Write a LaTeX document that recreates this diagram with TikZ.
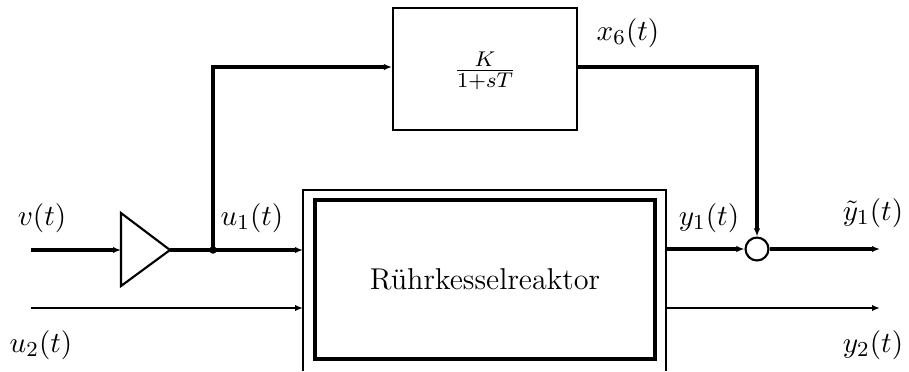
\documentclass[tikz,border=0pt]{standalone}
\usetikzlibrary{arrows.meta}
\begin{document}
\begin{tikzpicture}[x=0.375pt,y=-0.375pt,
  thickl/.style={line width=1.3pt},
  thinl/.style={line width=0.8pt},
  arr/.style={-{Latex[length=3pt,width=2.4pt]}},
  lbl/.style={inner sep=0pt,font=\fontsize{11.2}{13}\selectfont},
  blockbox/.style={draw,line width=0.8pt,minimum width=69pt,minimum height=45.75pt,inner sep=0pt},
  reactbox/.style={draw,line width=1.3pt,minimum width=127.5pt,minimum height=59.6pt,inner sep=0pt,font=\fontsize{11.3}{13}\selectfont},
  sumnode/.style={draw,circle,line width=0.8pt,minimum size=8.6pt,inner sep=0pt},
  dotnode/.style={circle,fill,minimum size=2.8pt,inner sep=0pt}]
\useasboundingbox (0,0) rectangle (909,371);
% blocks
\node[blockbox] (pt1) at (485,69) {};
\node[lbl] (frac) at (485,71) {$\frac{K}{1+sT}$};
\node[reactbox] (reactor) at (485,279.5) {R\"uhrkesselreaktor};
\coordinate (oTL) at (303,190);
\coordinate (oBL) at (303,371);
\coordinate (oTR) at (666,190);
\coordinate (oBR) at (666,371);
\draw[thinl] (oBL) -- (oTL) -- (oTR) -- (oBR);
% gain triangle
\coordinate (gin) at (121,250);
\coordinate (gout) at (170,250);
\coordinate (gtop) at (121,213);
\coordinate (gbot) at (121,286);
\draw[thinl] (gtop) -- (gout) -- (gbot) -- cycle;
% ports
\coordinate (vin) at (31,250);
\coordinate (u2in) at (31,308);
\coordinate (u1e) at (303,250);
\coordinate (u2e) at (303,308);
\coordinate (y1s) at (666,249);
\coordinate (y2s) at (666,308);
\coordinate (y1e) at (880,249);
\coordinate (y2e) at (880,308);
\node[dotnode] (junc) at (213,250) {};
\coordinate (jup) at (213,67);
\coordinate (xcorner) at (757,67);
\node[sumnode] (sum) at (757,249) {};
% connectors
\draw[thickl,arr] (vin) -- (gin);
\draw[thickl,arr] (gout) -- (u1e);
\draw[thickl,arr] (junc.center) -- (jup) -- (pt1.west |- jup);
\draw[thickl,arr] (pt1.east |- xcorner) -- (xcorner) -- (sum.north);
\draw[thickl,arr] (y1s) -- (sum.west);
\draw[thickl,arr] (sum.east) -- (y1e);
\draw[thinl,arr] (u2in) -- (u2e);
\draw[thinl,arr] (y2s) -- (y2e);
% labels
\node[lbl] (lv) at (42,218) {$v(t)$};
\node[lbl] (lu1) at (252,218) {$u_1(t)$};
\node[lbl] (lu2) at (41,345) {$u_2(t)$};
\node[lbl] (ly1) at (709,218) {$y_1(t)$};
\node[lbl] (lyt) at (873,213) {$\tilde{y}_1(t)$};
\node[lbl] (ly2) at (873,345) {$y_2(t)$};
\node[lbl] (lx6) at (628,33) {$x_6(t)$};
\end{tikzpicture}
\end{document}
